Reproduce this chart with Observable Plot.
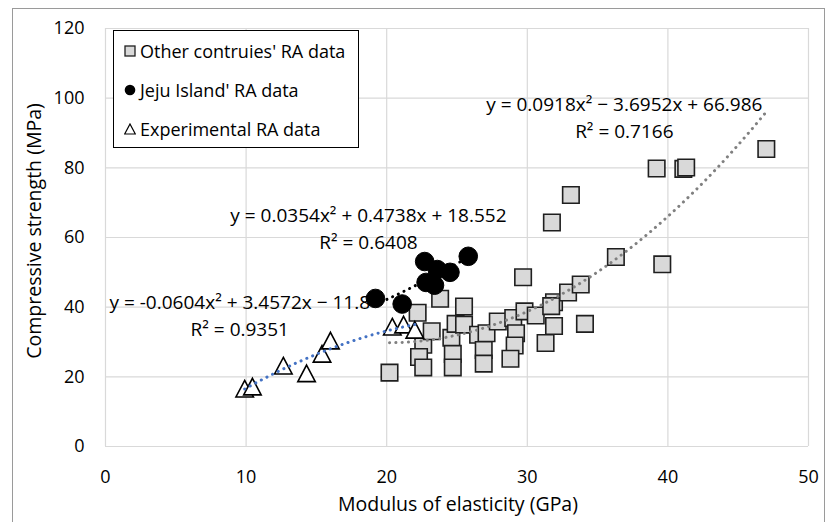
<!DOCTYPE html>
<html>
<head>
<meta charset="utf-8">
<script src="https://cdn.jsdelivr.net/npm/d3@7"></script>
<script src="https://cdn.jsdelivr.net/npm/@observablehq/plot@0.6"></script>
<style>
  html, body { margin: 0; padding: 0; background: #fff; }
  #wrap { position: relative; width: 832px; height: 522px; overflow: hidden; font-family: "Open Sans", Lato, sans-serif; }
  #border { position: absolute; left: 12px; top: 8px; width: 813px; height: 530px; border: 1px solid #9a9a9a; box-sizing: border-box; pointer-events: none; }
  #legend { position: absolute; left: 113px; top: 30px; width: 246px; height: 118px; border: 1px solid #000; background: #fff; box-sizing: border-box; }
  .item { position: absolute; left: 0; height: 24px; display: flex; align-items: center; font-size: 18px; color: #000; white-space: nowrap; }
  .item svg { margin-left: 10px; margin-right: 4px; }
</style>
</head>
<body>
<div id="wrap">
  <div id="chart"></div>
  <div id="border"></div>
  <div id="legend"></div>
</div>
<script>
// ---- Data ----
// Other countries' RA data (modulus GPa, strength MPa)
const otherX = [20.2, 22.2, 22.6, 22.3, 22.6, 23.2, 23.8, 24.6, 24.7, 24.7,
                24.9, 25.5, 25.5, 26.5, 27.1, 26.9, 26.9, 27.9, 29.0, 29.2,
                29.1, 28.8, 29.8, 30.6, 29.7, 31.3, 31.9, 31.9, 31.7, 32.9,
                33.8, 34.1, 36.3, 33.1, 31.75, 39.6, 39.2, 41.1, 41.3, 47.0];
const otherY = [21.2, 38.4, 29.2, 25.7, 22.7, 33.1, 42.4, 31.2, 26.6, 22.7,
                35.2, 35.0, 40.2, 32.1, 32.5, 27.7, 23.8, 35.9, 36.9, 32.5,
                29.0, 25.2, 38.8, 37.6, 48.6, 29.7, 34.6, 41.4, 40.3, 44.2,
                46.5, 35.2, 54.4, 72.2, 64.3, 52.3, 79.8, 79.7, 80.1, 85.4];
// Jeju Island RA data
const jejuX = [19.2, 21.1, 22.7, 23.6, 24.5, 22.8, 23.4, 25.8];
const jejuY = [42.5, 40.9, 53.1, 50.8, 50.0, 47.1, 46.3, 54.6];
// Experimental RA data
const expX = [9.9, 10.45, 12.65, 14.3, 15.4, 16.0, 20.4, 21.2, 22.0];
const expY = [16.6, 17.2, 23.2, 21.0, 26.6, 30.4, 34.4, 35.0, 33.5];

// Trendline coefficients (a x² + b x + c), as printed on the chart
const fitOther = [0.0918, -3.6952, 66.986];
const fitJeju = [0.0354, 0.4738, 18.552];
const fitExp = [-0.0604, 3.4572, -11.8];

// Equation labels
const eqText = [
  "y = 0.0918x² − 3.6952x + 66.986\nR² = 0.7166",
  "y = 0.0354x² + 0.4738x + 18.552\nR² = 0.6408",
  "y = -0.0604x² + 3.4572x − 11.8\nR² = 0.9351"
];
const eqX = [36.9, 18.7, 9.55];
const eqY = [95.0, 63.1, 38.2];

// Legend labels
const seriesNames = ["Other contruies' RA data", "Jeju Island' RA data", "Experimental RA data"];

// Ticks
const xTicks = [0, 10, 20, 30, 40, 50];
const yTicks = [0, 20, 40, 60, 80, 100, 120];

// ---- Build tables ----
const toPts = (xs, ys) => xs.map((x, i) => ({x, y: ys[i]}));
const other = toPts(otherX, otherY);
const jeju = toPts(jejuX, jejuY);
const exp = toPts(expX, expY);

function curve(coef, xs) {
  const lo = d3.min(xs), hi = d3.max(xs);
  const pts = [];
  const n = 120;
  for (let i = 0; i <= n; i++) {
    const x = lo + (hi - lo) * i / n;
    pts.push({x, y: coef[0] * x * x + coef[1] * x + coef[2]});
  }
  return pts;
}
const eqs = eqText.map((t, i) => ({text: t, x: eqX[i], y: eqY[i]}));

// Triangle symbol centred on its bounding box (as in Excel markers)
const triBox = {
  draw(ctx, size) {
    const r = Math.sqrt(size / Math.PI);
    const w = 1.9 * r, h = 1.8 * r;
    ctx.moveTo(0, -h / 2);
    ctx.lineTo(w / 2, h / 2);
    ctx.lineTo(-w / 2, h / 2);
    ctx.closePath();
  }
};

const dotted = {strokeWidth: 3, strokeLinecap: "round", strokeDasharray: "0.1,6.2"};

const chart = Plot.plot({
  width: 832,
  height: 522,
  marginLeft: 105,
  marginRight: 24,
  marginTop: 28,
  marginBottom: 76,
  style: {fontFamily: "'Open Sans', Lato, sans-serif", fontSize: "18px", color: "#000", background: "transparent"},
  x: {domain: [0, 50], ticks: xTicks, tickSize: 0, tickPadding: 24, label: null},
  y: {domain: [0, 120], ticks: yTicks, tickSize: 0, tickPadding: 21, label: null},
  marks: [
    Plot.ruleX(xTicks, {stroke: "#d9d9d9", strokeWidth: 1.2}),
    Plot.ruleY(yTicks, {stroke: "#d9d9d9", strokeWidth: 1.2}),
    Plot.dot(other, {x: "x", y: "y", symbol: "square", r: 9.3, fill: "#d9d9d9", stroke: "#1f1f1f", strokeWidth: 1.6}),
    Plot.dot(jeju, {x: "x", y: "y", r: 9.3, fill: "#000", stroke: "#000", strokeWidth: 1}),
    Plot.dot(exp, {x: "x", y: "y", symbol: triBox, r: 9.2, fill: "#fff", stroke: "#000", strokeWidth: 1.6}),
    Plot.line(curve(fitOther, otherX), {x: "x", y: "y", stroke: "#808080", ...dotted}),
    Plot.line(curve(fitJeju, jejuX), {x: "x", y: "y", stroke: "#000", ...dotted}),
    Plot.line(curve(fitExp, expX), {x: "x", y: "y", stroke: "#4472c4", ...dotted}),
    Plot.text(eqs, {x: "x", y: "y", text: "text", fontSize: 19, lineHeight: 1.42, textAnchor: "middle", fill: "#000"})
  ]
});
document.getElementById("chart").appendChild(chart);

// ---- Axis titles (as real SVG text inside the chart) ----
const svg = d3.select(chart.tagName.toLowerCase() === "svg" ? chart : chart.querySelector("svg"));
const xTitle = "Modulus of elasticity (GPa)";
const yTitle = "Compressive strength (MPa)";
svg.append("text")
  .attr("x", 458).attr("y", 503)
  .attr("text-anchor", "middle").attr("dominant-baseline", "central")
  .attr("font-size", 19.5).attr("fill", "#000")
  .text(xTitle);
svg.append("text")
  .attr("transform", "translate(33,231) rotate(-90)")
  .attr("text-anchor", "middle").attr("dominant-baseline", "central")
  .attr("font-size", 19.5).attr("fill", "#000")
  .text(yTitle);

// ---- Legend ----
const legend = document.getElementById("legend");
const legendIcons = [
  '<svg width="12" height="12"><rect x="1" y="1" width="10" height="10" fill="#d9d9d9" stroke="#1f1f1f" stroke-width="1.3"/></svg>',
  '<svg width="12" height="12"><circle cx="6" cy="6" r="5.3" fill="#000"/></svg>',
  '<svg width="12" height="12"><path d="M6,1 L11.3,11 L0.7,11 Z" fill="#fff" stroke="#000" stroke-width="1.2"/></svg>'
];
const rowTops = [8, 47, 86];
seriesNames.forEach((name, i) => {
  const el = document.createElement("div");
  el.className = "item";
  el.style.top = rowTops[i] + "px";
  el.innerHTML = legendIcons[i] + "<span>" + name + "</span>";
  legend.appendChild(el);
});
</script>
</body>
</html>
